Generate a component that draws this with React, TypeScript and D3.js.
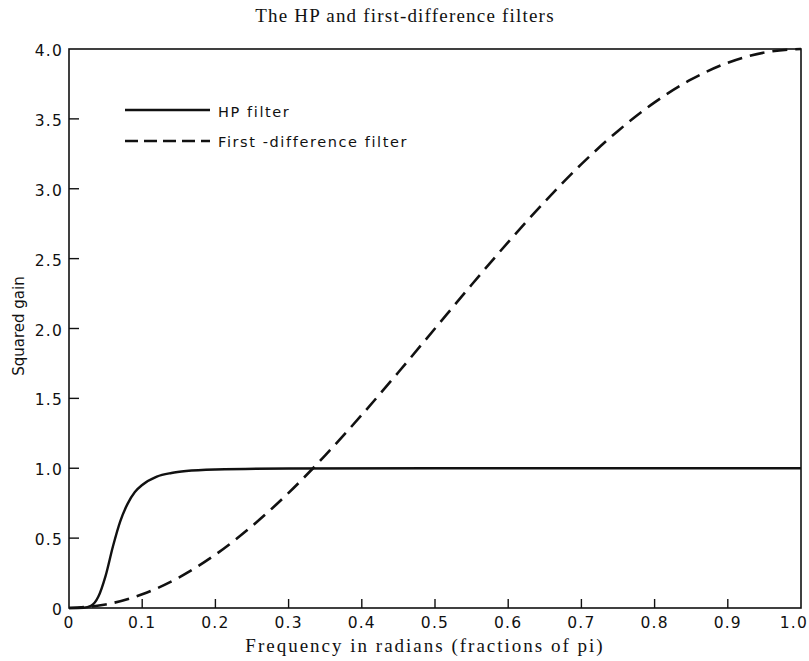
import React from "react";
import * as d3 from "d3";

// frequency (fractions of pi)
const hpFreq = [0, 0.02, 0.03, 0.04, 0.05, 0.06, 0.07, 0.08, 0.09, 0.1, 0.12, 0.14, 0.16, 0.2, 0.3, 0.5, 0.7, 1.0];
const hpGain = [0, 0.002, 0.015, 0.08, 0.23, 0.44, 0.62, 0.745, 0.83, 0.88, 0.94, 0.966, 0.98, 0.991, 0.998, 1.0, 1.0, 1.0];

const fdFreq = [0, 0.05, 0.1, 0.15, 0.2, 0.25, 0.3, 0.35, 0.4, 0.45, 0.5, 0.55, 0.6, 0.65, 0.7, 0.75, 0.8, 0.85, 0.9, 0.95, 1.0];
const fdGain = [0, 0.025, 0.098, 0.218, 0.382, 0.586, 0.824, 1.092, 1.382, 1.687, 2.0, 2.313, 2.618, 2.908, 3.176, 3.414, 3.618, 3.782, 3.902, 3.975, 4.0];

const xTicks = [0, 0.1, 0.2, 0.3, 0.4, 0.5, 0.6, 0.7, 0.8, 0.9, 1.0];
const xTickLabels = ["0", "0.1", "0.2", "0.3", "0.4", "0.5", "0.6", "0.7", "0.8", "0.9", "1.0"];
const yTicks = [0, 0.5, 1, 1.5, 2, 2.5, 3, 3.5, 4];
const yTickLabels = ["0", "0.5", "1.0", "1.5", "2.0", "2.5", "3.0", "3.5", "4.0"];

const W = 809;
const H = 661;
const left = 69;
const right = 801;
const top = 49;
const bottom = 608;

export default function App() {
  const x = d3.scaleLinear().domain([0, 1]).range([left, right]);
  const y = d3.scaleLinear().domain([0, 4]).range([bottom, top]);

  const line = d3
    .line<[number, number]>()
    .x((d) => x(d[0]))
    .y((d) => y(d[1]))
    .curve(d3.curveMonotoneX);

  const hpPath = line(hpFreq.map((f, i) => [f, hpGain[i]]));
  const fdPath = line(fdFreq.map((f, i) => [f, fdGain[i]]));

  const sans = "'DejaVu Sans', sans-serif";
  const serif = "'Liberation Serif', 'DejaVu Serif', serif";

  return (
    <svg width={W} height={H} style={{ position: "absolute", left: 0, top: 0, background: "#fff" }}>
      <text x={405} y={22} textAnchor="middle" fontFamily={serif} fontSize={19} letterSpacing={1.2} fill="#111">
        The HP and first-difference filters
      </text>

      <rect x={left} y={top} width={right - left} height={bottom - top} fill="none" stroke="#111" strokeWidth={1.6} />

      {xTicks.map((t, i) => (
        <g key={"x" + i}>
          {i > 0 && i < xTicks.length - 1 && (
            <line x1={x(t)} x2={x(t)} y1={bottom} y2={bottom - 9} stroke="#111" strokeWidth={1.4} />
          )}
          <text
            x={i === xTicks.length - 1 ? 808 : x(t)}
            y={628}
            textAnchor={i === xTicks.length - 1 ? "end" : "middle"}
            fontFamily={sans}
            fontSize={15.5}
            letterSpacing={1.2}
            fill="#111"
          >
            {xTickLabels[i]}
          </text>
        </g>
      ))}

      {yTicks.map((t, i) => (
        <g key={"y" + i}>
          {i > 0 && i < yTicks.length - 1 && (
            <line x1={left} x2={left + 10} y1={y(t)} y2={y(t)} stroke="#111" strokeWidth={1.4} />
          )}
          <text x={left - 6} y={y(t) + 7} textAnchor="end" fontFamily={sans} fontSize={15.5} letterSpacing={1.2} fill="#111">
            {yTickLabels[i]}
          </text>
        </g>
      ))}

      <text
        transform={`translate(24, 326) rotate(-90)`}
        textAnchor="middle"
        fontFamily={sans}
        fontSize={15}
        fill="#111"
      >
        Squared gain
      </text>

      <text x={425} y={652} textAnchor="middle" fontFamily={serif} fontSize={19} letterSpacing={2} fill="#111">
        Frequency in radians (fractions of pi)
      </text>

      <path d={hpPath ?? ""} fill="none" stroke="#111" strokeWidth={2.4} />
      <path d={fdPath ?? ""} fill="none" stroke="#111" strokeWidth={2.6} strokeDasharray="15 8" />

      <line x1={125} x2={210} y1={110} y2={110} stroke="#111" strokeWidth={2.4} />
      <text x={218} y={117} fontFamily={sans} fontSize={14.5} letterSpacing={1.6} fill="#111">HP filter</text>
      <line x1={125} x2={210} y1={141} y2={141} stroke="#111" strokeWidth={2.6} strokeDasharray="13 6" />
      <text x={218} y={147} fontFamily={sans} fontSize={14.5} letterSpacing={1.6} fill="#111">First -difference filter</text>
    </svg>
  );
}
